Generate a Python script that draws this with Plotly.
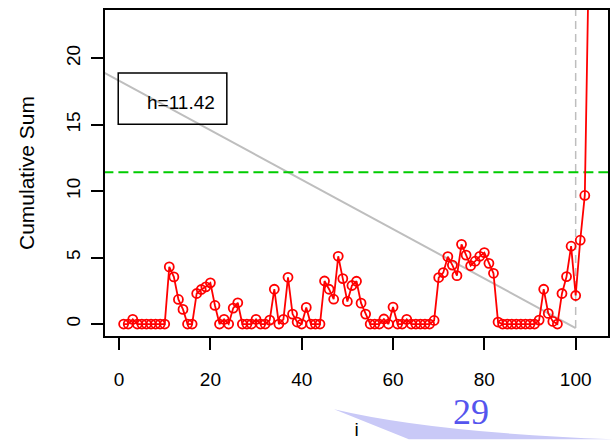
import plotly.graph_objects as go

# CUSUM statistic for observations i = 1..103
idx = list(range(1, 104))
cusum = [
    0, 0, 0.35, 0, 0, 0, 0, 0, 0, 0,
    4.3, 3.55, 1.85, 1.1, 0, 0, 2.3, 2.6, 2.8, 3.1,
    1.4, 0, 0.35, 0, 1.2, 1.6, 0, 0, 0, 0.35,
    0, 0, 0.3, 2.62, 0, 0.35, 3.52, 0.75, 0.15, 0,
    1.25, 0, 0, 0, 3.24, 2.62, 1.87, 5.1, 3.42, 1.7,
    2.9, 3.22, 1.57, 0.75, 0, 0, 0, 0.38, 0, 1.28,
    0, 0, 0.35, 0, 0, 0, 0, 0, 0.27, 3.5,
    3.87, 5.07, 4.44, 3.64, 6.0, 5.19, 4.39, 4.73, 5.1, 5.38,
    4.57, 3.82, 0.15, 0, 0, 0, 0, 0, 0, 0,
    0, 0.3, 2.62, 0.8, 0.2, 0, 2.3, 3.57, 5.86, 2.15,
    6.31, 9.68, 30,
]

# decision interval
h = 11.42
h_x = [-10, 110]

# lower arm of the mask anchored at i = 100
mask_x = [-10, 100]
mask_y = [20.18, -0.3]

# signal position
signal_i = 100
signal_y = [-0.3, 30]

x_ticks = [0, 20, 40, 60, 80, 100]
y_ticks = [0, 5, 10, 15, 20]

FONT = "Liberation Sans, Arial, sans-serif"

fig = go.Figure()

fig.add_trace(go.Scatter(
    x=mask_x, y=mask_y, mode="lines",
    line=dict(color="#bebebe", width=2), showlegend=False, hoverinfo="skip"))

fig.add_trace(go.Scatter(
    x=[signal_i, signal_i], y=signal_y, mode="lines",
    line=dict(color="#bebebe", width=1.5, dash="8px,5px"),
    showlegend=False, hoverinfo="skip"))

fig.add_trace(go.Scatter(
    x=h_x, y=[h, h], mode="lines",
    line=dict(color="#00cc00", width=2, dash="10px,5px"),
    showlegend=False, hoverinfo="skip"))

fig.add_trace(go.Scatter(
    x=idx, y=cusum, mode="lines+markers",
    line=dict(color="#ff0000", width=1.8),
    marker=dict(symbol="circle-open", size=9, color="#ff0000",
                line=dict(width=1.8, color="#ff0000")),
    showlegend=False))

axis_common = dict(
    showline=True, linecolor="black", linewidth=1.5, mirror=True,
    ticks="outside", ticklen=12, tickwidth=1.5, tickcolor="black",
    showgrid=False, zeroline=False,
    tickfont=dict(family=FONT, size=19, color="black"),
)

fig.update_layout(
    width=615, height=442, autosize=False,
    margin=dict(l=105, r=5, t=10, b=104),
    paper_bgcolor="white", plot_bgcolor="white",
    font=dict(family=FONT, color="black"),
    xaxis=dict(
        range=[-3.08, 107.08], tickvals=x_ticks, ticklabelstandoff=13,
        title=dict(text="i", font=dict(family=FONT, size=19), standoff=34),
        **axis_common),
    yaxis=dict(
        range=[-0.9, 23.64], tickvals=y_ticks, tickangle=-90, ticklabelstandoff=4,
        title=dict(text="Cumulative Sum", font=dict(family=FONT, size=21), standoff=22),
        **axis_common),
    shapes=[
        # legend frame
        dict(type="rect", xref="paper", yref="paper",
             x0=0.0263, x1=0.2422, y0=0.6494, y1=0.8070,
             line=dict(color="black", width=1.5), fillcolor="rgba(0,0,0,0)",
             layer="above"),
        # slide swoosh
        dict(type="path", xref="paper", yref="paper",
             path="M 0.4554,-0.2247 Q 0.65,-0.296 1.01,-0.317 "
                  "L 0.604,-0.317 L 0.4554,-0.2247 Z",
             line=dict(width=0), fillcolor="#c9c9f7", layer="below"),
    ],
    annotations=[
        dict(text="h=11.42", xref="paper", yref="paper",
             x=0.2232, y=0.7165, xanchor="right", yanchor="middle",
             showarrow=False, font=dict(family=FONT, size=19, color="black")),
        dict(text="29", xref="paper", yref="paper",
             x=0.7267, y=-0.2342, xanchor="center", yanchor="middle",
             showarrow=False,
             font=dict(family="Liberation Serif, Times New Roman, serif",
                       size=36, color="#5555ee")),
    ],
)

fig.write_html("out.html")
